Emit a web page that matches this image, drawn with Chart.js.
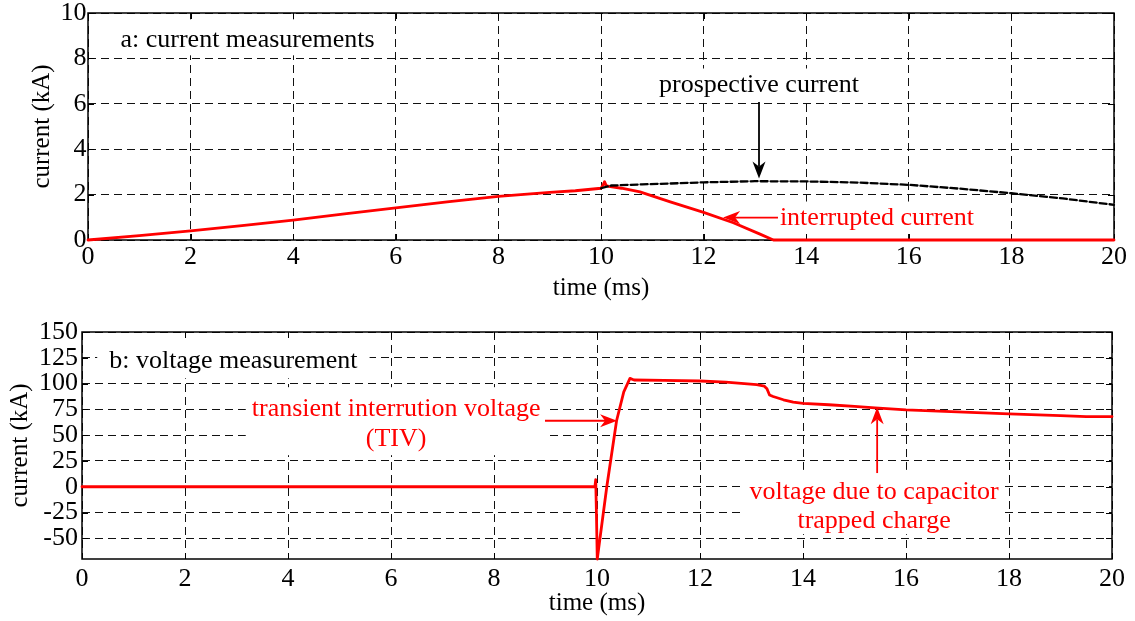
<!DOCTYPE html>
<html>
<head>
<meta charset="utf-8">
<script src="https://cdn.jsdelivr.net/npm/chart.js@4.4.0/dist/chart.umd.min.js"></script>
<style>
  html, body { margin: 0; padding: 0; background: #fff; }
  #wrap { position: relative; width: 1135px; height: 621px; background: #fff; }
  #wrap canvas { position: absolute; left: 0; }
</style>
</head>
<body>
<div id="wrap">
  <canvas id="cur" width="1135" height="310" style="top:0"></canvas>
  <canvas id="volt" width="1135" height="311" style="top:310px"></canvas>
</div>
<script>
// ── (a) current, kA against time in ms ──
const tInterrupted = [0, 1, 2, 3, 4, 5, 6, 7, 8, 9, 9.5, 10.0, 10.04, 10.07, 10.1, 10.15, 10.4, 10.76, 11.35, 12.0, 12.58, 13.1, 13.36, 14, 16, 18, 20];
const iInterrupted = [0, 0.19, 0.40, 0.63, 0.88, 1.15, 1.42, 1.68, 1.92, 2.10, 2.17, 2.28, 2.42, 2.57, 2.40, 2.36, 2.28, 2.12, 1.68, 1.22, 0.76, 0.26, 0, 0, 0, 0, 0];
const tProspective = [10.0, 10.2, 10.8, 11.5, 12, 13, 14, 15, 16, 17, 18, 19, 20];
const iProspective = [2.28, 2.40, 2.45, 2.50, 2.54, 2.59, 2.58, 2.53, 2.43, 2.26, 2.06, 1.83, 1.55];

// ── (b) voltage across the breaker ──
const tVoltage = [0, 9.96, 9.975, 9.99, 10.005, 10.19, 10.38, 10.52, 10.64, 10.72, 11.3, 12.0, 12.5, 12.8, 13.1, 13.25, 13.3, 13.35, 13.42, 13.62, 13.81, 14.0, 14.5, 15.0, 15.4, 16.0, 17.0, 18.0, 19.0, 19.5, 20.0];
const vVoltage = [0, 0, 7, -28, -70, 0, 64, 92, 105, 103.5, 103.2, 102.5, 101.5, 100.2, 99, 97.5, 95, 89, 87.5, 84.3, 82, 80.8, 79.5, 78, 76.5, 74.5, 72.5, 70.6, 69, 68, 68];

const timeTicks = [0, 2, 4, 6, 8, 10, 12, 14, 16, 18, 20];
const currentTicks = [0, 2, 4, 6, 8, 10];
const voltageTicks = [-50, -25, 0, 25, 50, 75, 100, 125, 150];

const SERIF = "'Liberation Serif', 'Times New Roman', serif";
const RED = '#ff0000';
const GRID = '#111';

const pts = (xs, ys) => xs.map((x, i) => ({ x, y: ys[i] }));

function arrow(ctx, x0, y0, x1, y1, color) {
  const a = Math.atan2(y1 - y0, x1 - x0), c = Math.cos(a), s = Math.sin(a);
  const L = 17, W = 6.5, N = 12;
  ctx.strokeStyle = color; ctx.fillStyle = color; ctx.lineWidth = 1.8;
  ctx.beginPath(); ctx.moveTo(x0, y0); ctx.lineTo(x1 - N * c, y1 - N * s); ctx.stroke();
  ctx.beginPath();
  ctx.moveTo(x1, y1);
  ctx.lineTo(x1 - L * c + W * s, y1 - L * s - W * c);
  ctx.lineTo(x1 - N * c, y1 - N * s);
  ctx.lineTo(x1 - L * c - W * s, y1 - L * s + W * c);
  ctx.closePath(); ctx.fill();
}

// text boxes, axes frame with inward ticks, arrows
const notesPlugin = {
  id: 'notes',
  beforeDatasetsDraw(chart, args, opts) {
    const { ctx, chartArea: a, scales: { x, y } } = chart;
    ctx.save();
    ctx.font = `${opts.size}px ${SERIF}`;
    for (const n of opts.notes) {
      const cx = x.getPixelForValue(n.x), by = y.getPixelForValue(n.y);
      const w = Math.max(...n.lines.map(s => ctx.measureText(s).width));
      const [px, pt, pb] = n.pad;
      const top = by - 0.75 * opts.size - pt;
      const bot = by + (n.lines.length - 1) * n.lh + 0.25 * opts.size + pb;
      ctx.fillStyle = '#fff';
      ctx.fillRect(cx - w / 2 - px, top, w + 2 * px, bot - top);
      ctx.fillStyle = n.color;
      ctx.textAlign = 'center';
      ctx.textBaseline = 'alphabetic';
      n.lines.forEach((s, i) => ctx.fillText(s, cx, by + i * n.lh));
    }
    ctx.strokeStyle = '#000';
    ctx.lineWidth = 1.5;
    ctx.strokeRect(a.left, a.top, a.right - a.left, a.bottom - a.top);
    ctx.lineWidth = 1;
    ctx.beginPath();
    x.ticks.forEach(t => {
      const p = Math.round(x.getPixelForValue(t.value)) + 0.5;
      ctx.moveTo(p, a.bottom); ctx.lineTo(p, a.bottom - 6);
      ctx.moveTo(p, a.top); ctx.lineTo(p, a.top + 6);
    });
    y.ticks.forEach(t => {
      const p = Math.round(y.getPixelForValue(t.value)) + 0.5;
      ctx.moveTo(a.left, p); ctx.lineTo(a.left + 6, p);
      ctx.moveTo(a.right, p); ctx.lineTo(a.right - 6, p);
    });
    ctx.stroke();
    ctx.restore();
  },
  afterDatasetsDraw(chart, args, opts) {
    const { ctx, scales: { x, y } } = chart;
    ctx.save();
    for (const r of opts.arrows) {
      arrow(ctx, x.getPixelForValue(r.from[0]), y.getPixelForValue(r.from[1]),
        x.getPixelForValue(r.to[0]), y.getPixelForValue(r.to[1]), r.color);
    }
    ctx.restore();
  }
};
Chart.register(notesPlugin);

function scales(o) {
  return {
    x: {
      type: 'linear', min: 0, max: 20,
      afterBuildTicks: s => { s.ticks = timeTicks.map(v => ({ value: v })); },
      afterFit: s => { s.height = o.xh; s.paddingLeft = 0; s.paddingRight = 0; },
      grid: { color: GRID, lineWidth: 1, drawTicks: false },
      border: { display: false, dash: [8, 5] },
      ticks: { color: '#000', padding: o.xpad, maxRotation: 0, autoSkip: false, font: { family: SERIF, size: 26 } },
      title: { display: true, text: 'time (ms)', color: '#000', font: { family: SERIF, size: 25 }, padding: { top: 0, bottom: o.xtitle } }
    },
    y: {
      type: 'linear', min: o.ymin, max: o.ymax,
      afterBuildTicks: s => { s.ticks = o.yticks.map(v => ({ value: v })); },
      afterFit: s => { s.width = o.yw; s.paddingTop = 0; s.paddingBottom = 0; },
      grid: { color: GRID, lineWidth: 1, drawTicks: false },
      border: { display: false, dash: [8, 5] },
      ticks: { color: '#000', padding: o.ypad, autoSkip: false, font: { family: SERIF, size: 26 } },
      title: { display: true, text: 'current (kA)', color: '#000', font: { family: SERIF, size: 25 }, padding: { top: o.ytitle, bottom: 0 } }
    }
  };
}

const base = {
  responsive: false,
  animation: false,
  events: [],
  elements: { point: { radius: 0 }, line: { tension: 0, borderJoinStyle: 'round', borderCapStyle: 'round' } }
};

new Chart(document.getElementById('cur'), {
  type: 'line',
  data: {
    datasets: [
      { data: pts(tProspective, iProspective), borderColor: '#000', borderWidth: 2.3, borderDash: [7, 3], clip: false },
      { data: pts(tInterrupted, iInterrupted), borderColor: RED, borderWidth: 2.8, clip: false }
    ]
  },
  options: {
    ...base,
    layout: { padding: { top: 13, right: 21, bottom: 0, left: 0 } },
    scales: scales({ xh: 70, xpad: 2, xtitle: 7, yw: 88, ypad: 1.5, ytitle: 27, ymin: 0, ymax: 10, yticks: currentTicks }),
    plugins: {
      legend: { display: false }, tooltip: { enabled: false },
      notes: {
        size: 26,
        notes: [
          { lines: ['a: current measurements'], x: 3.11, y: 8.51, lh: 0, color: '#000', pad: [12, 8, 2] },
          { lines: ['prospective current'], x: 13.08, y: 6.52, lh: 0, color: '#000', pad: [6, 4, 2] },
          { lines: ['interrupted current'], x: 15.38, y: 0.66, lh: 0, color: RED, pad: [3, 4, 2] }
        ],
        arrows: [
          { from: [13.08, 6.08], to: [13.08, 2.71], color: '#000' },
          { from: [13.45, 0.99], to: [12.38, 0.99], color: RED }
        ]
      }
    }
  }
});

new Chart(document.getElementById('volt'), {
  type: 'line',
  data: {
    datasets: [
      { data: pts(tVoltage, vVoltage), borderColor: RED, borderWidth: 2.8, clip: false }
    ]
  },
  options: {
    ...base,
    layout: { padding: { top: 22, right: 23, bottom: 0, left: 0 } },
    scales: scales({ xh: 62, xpad: 5, xtitle: 3, yw: 82, ypad: 4, ytitle: 5.5, ymin: -70, ymax: 150, yticks: voltageTicks }),
    plugins: {
      legend: { display: false }, tooltip: { enabled: false },
      notes: {
        size: 26,
        notes: [
          { lines: ['b: voltage measurement'], x: 2.94, y: 115.3, lh: 0, color: '#000', pad: [12, 14, 4] },
          { lines: ['transient interrution voltage', '(TIV)'], x: 6.10, y: 68.9, lh: 30, color: RED, pad: [6, 9, 3] },
          { lines: ['voltage due to capacitor', 'trapped charge'], x: 15.38, y: -12.2, lh: 28.3, color: RED, pad: [6, 10, 0] }
        ],
        arrows: [
          { from: [8.99, 64], to: [10.39, 64], color: RED },
          { from: [15.44, 13.3], to: [15.44, 77], color: RED }
        ]
      }
    }
  }
});
</script>
</body>
</html>
